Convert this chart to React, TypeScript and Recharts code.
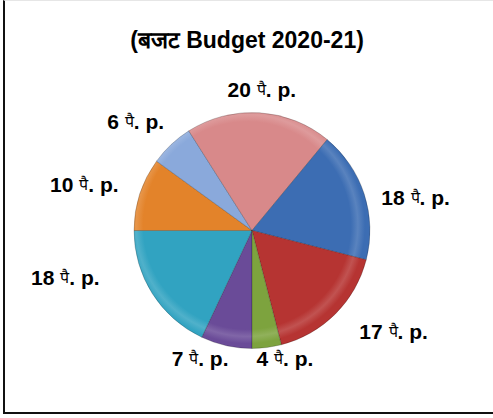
import React from 'react';
import { PieChart, Pie, Cell } from 'recharts';

// slices in clockwise order, starting at 6 o'clock
const shares = [7, 18, 10, 6, 20, 18, 17, 4];
const sliceColors = ['#6A4B98', '#31A3C1', '#E3832A', '#8AA9DB', '#D8898A', '#3C6DB3', '#B63432', '#7DA33E'];
const unitHindi = 'पै';
const unitLatin = '. p.';
const title = '(बजट Budget 2020-21)';

// hand-tuned label nudges (Excel "best fit" places them unevenly)
const labelNudge = [
    [-20, -15],
    [-43, -45],
    [-2, 7],
    [-4, 10],
    [1, -1],
    [-2, 20],
    [25, -16],
    [15, -14],
];

const data = shares.map((v, i) => ({ name: `s${i}`, value: v }));

const RADIAN = Math.PI / 180;
const FONT = '"Liberation Sans", Arial, sans-serif';
const CX = 247;
const CY = 225.5;
const R = 118;

const renderLabel = (props: any) => {
    const { cx, cy, midAngle, outerRadius, index, value } = props;
    const cos = Math.cos(-midAngle * RADIAN);
    const sin = Math.sin(-midAngle * RADIAN);
    const rr = outerRadius + 20 + 38 * Math.abs(cos);
    const x = cx + rr * cos + labelNudge[index][0];
    const y = cy + rr * sin + labelNudge[index][1];
    return (
        <text
            x={x}
            y={y}
            textAnchor="middle"
            dominantBaseline="central"
            fontFamily={FONT}
            fontWeight="bold"
            fontSize={21}
            fill="#000"
        >
            <tspan>{value} </tspan>
            <tspan fontWeight="normal" fontSize={16}>{unitHindi}</tspan>
            <tspan>{unitLatin}</tspan>
        </text>
    );
};

export default function App() {
    return (
        <div
            style={{
                position: 'absolute',
                left: 0,
                top: 0,
                width: 493,
                height: 418,
                background: '#fff',
            }}
        >
            <div
                style={{
                    position: 'absolute',
                    left: 3,
                    top: 0,
                    width: 490,
                    height: 414,
                    borderLeft: '2px solid #111',
                    borderBottom: '2px solid #111',
                    borderTop: '1px solid #e6e6e6',
                    boxSizing: 'border-box',
                }}
            />
            <PieChart width={493} height={418} style={{ position: 'absolute', left: 0, top: 0 }}>
                <defs>
                    {sliceColors.map((c, i) => (
                        <radialGradient
                            key={i}
                            id={`bevel${i}`}
                            gradientUnits="userSpaceOnUse"
                            cx={CX}
                            cy={CY}
                            r={R}
                        >
                            <stop offset="0%" stopColor={c} />
                            <stop offset="88%" stopColor={c} />
                            <stop offset="94%" stopColor={c} stopOpacity={0.85} />
                            <stop offset="100%" stopColor={c} />
                        </radialGradient>
                    ))}
                </defs>
                <text
                    x={247}
                    y={40}
                    textAnchor="middle"
                    dominantBaseline="central"
                    fontFamily={FONT}
                    fontWeight="bold"
                    fontSize={23}
                    fill="#000"
                >
                    {title}
                </text>
                <Pie
                    data={data}
                    dataKey="value"
                    cx={CX}
                    cy={CY}
                    outerRadius={R}
                    startAngle={270}
                    endAngle={-90}
                    label={renderLabel}
                    labelLine={false}
                    isAnimationActive={false}
                    stroke="rgba(0,0,0,0.25)"
                    strokeWidth={0.8}
                >
                    {data.map((d, i) => (
                        <Cell key={d.name} fill={`url(#bevel${i})`} />
                    ))}
                </Pie>
            </PieChart>
        </div>
    );
}
